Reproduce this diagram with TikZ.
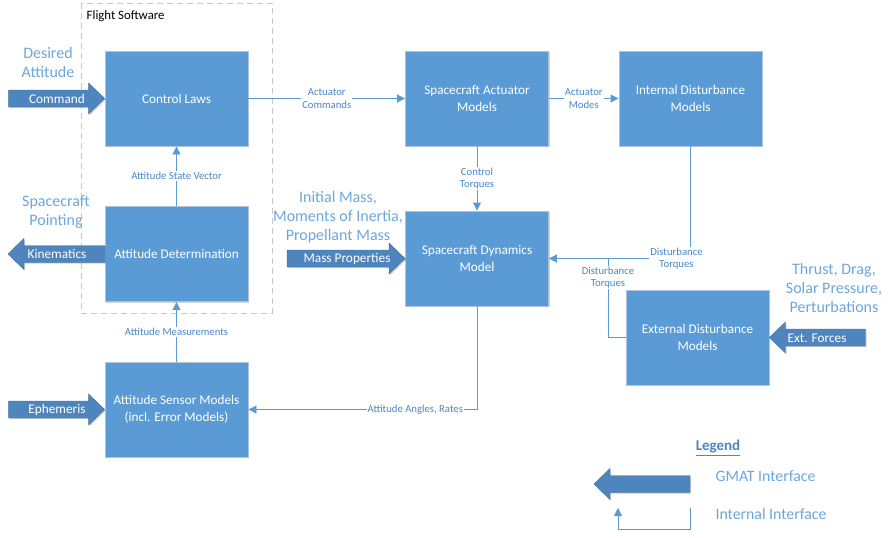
\documentclass[tikz,border=0pt]{standalone}
\usepackage{fontspec}
\setmainfont{Carlito}
\usetikzlibrary{arrows.meta,shadows}

\definecolor{boxblue}{HTML}{5B9BD5}
\definecolor{boxrim}{HTML}{AFC4DC}
\definecolor{fatblue}{HTML}{4F85BD}
\definecolor{fatrim}{HTML}{41719C}
\definecolor{linkblue}{HTML}{5B9BD5}
\definecolor{lbltext}{HTML}{4A86C8}
\definecolor{notetext}{HTML}{6CA6DC}
\definecolor{fsgray}{HTML}{C8C8C8}

\tikzset{
  blk/.style={draw=boxrim, line width=0.9pt, fill=boxblue, text=white,
    minimum width=143pt, minimum height=95pt, align=center,
    font=\fontsize{13.2}{16.5}\selectfont,
    drop shadow={shadow xshift=1.2pt, shadow yshift=-1.2pt, opacity=0.18, fill=black}},
  link/.style={draw=linkblue, line width=0.9pt, -{Triangle[length=8pt,width=8pt]}},
  plainlink/.style={draw=linkblue, line width=0.9pt},
  lbl/.style={fill=white, text=lbltext, inner sep=1pt, align=center,
    font=\fontsize{10.7}{12.5}\selectfont},
  note/.style={text=notetext, align=center, font=\fontsize{16}{19}\selectfont},
  fattext/.style={text=white, font=\fontsize{13.3}{15}\selectfont, inner sep=0pt},
  fatbody/.style={fill=fatblue, draw=fatrim, line width=0.4pt,
    drop shadow={shadow xshift=1.2pt, shadow yshift=-1.2pt, opacity=0.18, fill=black}},
  legtext/.style={text=notetext, font=\fontsize{15.8}{18}\selectfont, anchor=west},
  % wide GMAT interface arrow, tip at the origin, pointing right, tail at -#1
  pics/fatarrow/.style={code={
    \path[fatbody] (0,0) -- (-16,-15.5) -- (-16,-8.5) -- (-#1,-8.5)
      -- (-#1,8.5) -- (-16,8.5) -- (-16,15.5) -- cycle;}},
}

\begin{document}
\begin{tikzpicture}[x=1pt,y=-1pt]
\useasboundingbox (0,0) rectangle (895,538);

% flight software boundary
\draw[fsgray, line width=1pt, dash pattern=on 6pt off 4pt] (81,3) rectangle (272,313);
\node[anchor=west, font=\fontsize{12.8}{14}\selectfont, inner sep=0pt] (fsw) at (86.5,16) {Flight Software};

% blocks
\node[blk] (ctl) at (176.5,98.5) {Control Laws};
\node[blk] (det) at (176.5,254) {Attitude Determination};
\node[blk] (act) at (477,98.5) {Spacecraft Actuator\\Models};
\node[blk] (intd) at (690.5,98.5) {Internal Disturbance\\Models};
\node[blk] (dyn) at (477,258.5) {Spacecraft Dynamics\\Model};
\node[blk] (ext) at (697.5,337.5) {External Disturbance\\Models};
\node[blk] (sen) at (176.5,409.5) {Attitude Sensor Models\\(incl. Error Models)};

% GMAT interface arrows
\pic at (ctl.west) {fatarrow=96};
\node[fattext] (cmd) at (57,98.5) {Command};
\pic[xscale=-1] at (8,254) {fatarrow=97};
\node[fattext] (kin) at (57,254) {Kinematics};
\pic at (dyn.west) {fatarrow=118};
\node[fattext] (mass) at (347,258.5) {Mass Properties};
\pic[xscale=-1] at (ext.east) {fatarrow=96};
\node[fattext] (frc) at (817,338) {Ext. Forces};
\pic at (sen.west) {fatarrow=96};
\node[fattext] (eph) at (57,409.5) {Ephemeris};

% input / output descriptions
\node[note] (desatt) at (48,63) {Desired\\Attitude};
\node[note] (point) at (56,212) {Spacecraft\\Pointing};
\node[note] (mprops) at (338,217) {Initial Mass,\\Moments of Inertia,\\Propellant Mass};
\node[note] (forces) at (834,288) {Thrust, Drag,\\Solar Pressure,\\Perturbations};

% internal interfaces
\draw[link] (ctl.east) -- node[lbl] {Actuator\\Commands} (act.west);
\draw[link] (act.east) -- node[lbl] {Actuator\\Modes} (intd.west);
\draw[link] (act.south) -- node[lbl] {Control\\Torques} (dyn.north);
\draw[link] (intd.south) |- node[lbl, pos=0.5, xshift=-14pt] {Disturbance\\Torques} (dyn.east);
\coordinate (tap) at (608,258.5);
\draw[plainlink] (ext.west) -| node[lbl, pos=0.88] {Disturbance\\Torques} (tap);
\draw[link] (dyn.south) |- node[lbl, pos=0.635] {Attitude Angles, Rates} (sen.east);
\draw[link] (sen.north) -- node[lbl] {Attitude Measurements} (det.south);
\draw[link] (det.north) -- node[lbl] {Attitude State Vector} (ctl.south);

% legend
\node[text=lbltext, font=\fontsize{15}{17}\selectfont\bfseries] (leg) at (718,448) {\underline{Legend}};
\pic[xscale=-1] at (594,484) {fatarrow=96};
\node[legtext] (lgmat) at (712,476) {GMAT Interface};
\coordinate (lia) at (690,508);
\coordinate (lib) at (618,508);
\draw[link] (lia) -- (690,529) -| (lib);
\node[legtext] (lint) at (712,514) {Internal Interface};
\end{tikzpicture}
\end{document}
